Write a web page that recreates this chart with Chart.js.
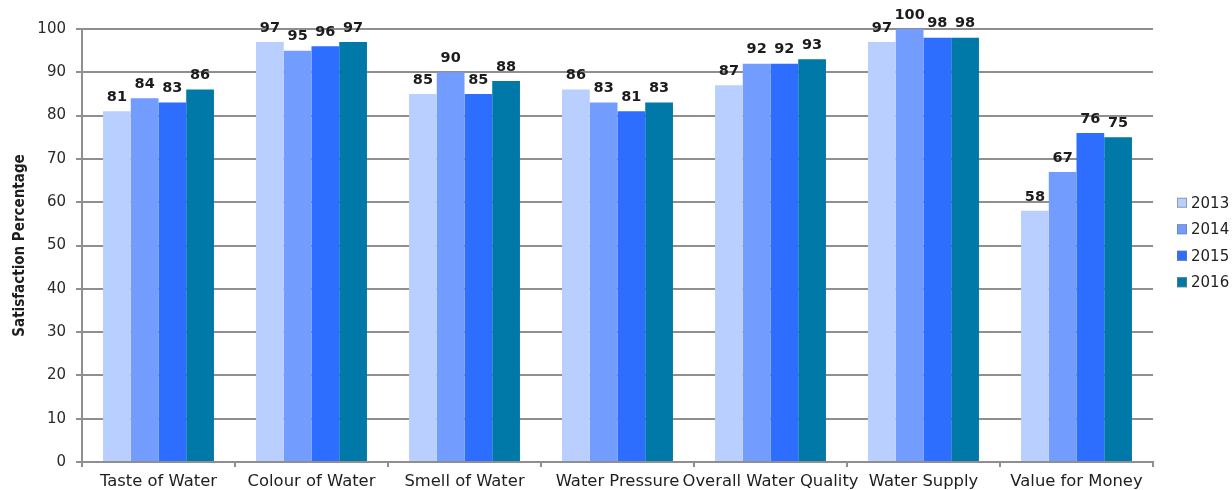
<!DOCTYPE html>
<html>
<head>
<meta charset="utf-8">
<title>Satisfaction Percentage</title>
<script src="https://cdn.jsdelivr.net/npm/chart.js@4/dist/chart.umd.min.js"></script>
<style>
  html, body { margin: 0; padding: 0; background: #ffffff; }
  #wrap { width: 1232px; height: 490px; position: relative; }
</style>
</head>
<body>
<div id="wrap"><canvas id="chart" width="1232" height="490"></canvas></div>
<script>
// Survey categories and yearly satisfaction results (%)
const categories = [
  'Taste of Water', 'Colour of Water', 'Smell of Water', 'Water Pressure',
  'Overall Water Quality', 'Water Supply', 'Value for Money'
];
const years = ['2013', '2014', '2015', '2016'];
const values2013 = [81, 97, 85, 86, 87, 97, 58];
const values2014 = [84, 95, 90, 83, 92, 100, 67];
const values2015 = [83, 96, 85, 81, 92, 98, 76];
const values2016 = [86, 97, 88, 83, 93, 98, 75];
const yTicks = [0, 10, 20, 30, 40, 50, 60, 70, 80, 90, 100];

const seriesValues = [values2013, values2014, values2015, values2016];
const seriesColors = ['#b9cfff', '#729dff', '#2d6dff', '#0079a8'];

const FONT = '"DejaVu Sans", Verdana, sans-serif';

// Value labels above every bar
const valueLabels = {
  id: 'valueLabels',
  afterDatasetsDraw(chart) {
    const ctx = chart.ctx;
    ctx.save();
    ctx.font = 'bold 14.5px ' + FONT;
    ctx.fillStyle = '#1c1c1c';
    ctx.textAlign = 'center';
    ctx.textBaseline = 'middle';
    chart.data.datasets.forEach((ds, i) => {
      const meta = chart.getDatasetMeta(i);
      meta.data.forEach((bar, j) => {
        ctx.fillText(String(ds.data[j]), bar.x, bar.y - 14);
      });
    });
    ctx.restore();
  }
};

// Legend stacked to the right of the plot
const sideLegend = {
  id: 'sideLegend',
  afterDraw(chart) {
    const ctx = chart.ctx;
    const area = chart.chartArea;
    const step = 26.5;
    const n = chart.data.datasets.length;
    const y0 = (area.top + area.bottom) / 2 - step * (n - 1) / 2 - 3;
    const boxX = area.right + 24;
    ctx.save();
    ctx.font = '15px ' + FONT;
    ctx.textBaseline = 'middle';
    ctx.textAlign = 'left';
    chart.data.datasets.forEach((ds, i) => {
      const cy = y0 + i * step;
      ctx.fillStyle = ds.backgroundColor;
      ctx.fillRect(boxX, cy - 5, 10, 10);
      ctx.strokeStyle = 'rgba(120,120,120,0.6)';
      ctx.lineWidth = 1;
      ctx.strokeRect(boxX + 0.5, cy - 4.5, 9, 9);
      ctx.fillStyle = '#222222';
      ctx.fillText(ds.label, boxX + 14, cy + 1);
    });
    ctx.restore();
  }
};

const datasets = years.map((y, i) => ({
  label: y,
  data: seriesValues[i],
  backgroundColor: seriesColors[i],
  borderWidth: 0,
  categoryPercentage: 0.725,
  barPercentage: 1.0
}));

new Chart(document.getElementById('chart'), {
  type: 'bar',
  data: { labels: categories, datasets },
  plugins: [valueLabels, sideLegend],
  options: {
    responsive: false,
    animation: false,
    layout: { padding: { top: 29, right: 79, bottom: 0, left: 0 } },
    plugins: {
      legend: { display: false },
      tooltip: { enabled: false }
    },
    scales: {
      x: {
        grid: {
          drawOnChartArea: false,
          drawTicks: true,
          tickLength: 5,
          color: '#8f8f8f',
          lineWidth: 2,
          offset: true
        },
        border: { color: '#8f8f8f', width: 2 },
        ticks: {
          font: { family: FONT, size: 16.4 },
          color: '#1e1e1e',
          padding: 5,
          maxRotation: 0,
          autoSkip: false
        },
        afterFit(scale) { scale.height = 28; }
      },
      y: {
        min: 0,
        max: 100,
        afterBuildTicks(scale) { scale.ticks = yTicks.map(v => ({ value: v })); },
        grid: {
          color: '#8f8f8f',
          lineWidth: 2,
          drawTicks: true,
          tickLength: 6
        },
        border: { color: '#8f8f8f', width: 2 },
        ticks: {
          font: { family: FONT, size: 15 },
          color: '#2a2a2a',
          padding: 10
        },
        title: {
          display: true,
          text: 'Satisfaction Percentage',
          font: { family: '"Liberation Sans Narrow", "DejaVu Sans Condensed", sans-serif', size: 15, weight: 'bold' },
          color: '#1e1e1e',
          padding: { top: 11, bottom: 0 }
        },
        afterFit(scale) { scale.width = 82; }
      }
    }
  }
});
</script>
</body>
</html>
